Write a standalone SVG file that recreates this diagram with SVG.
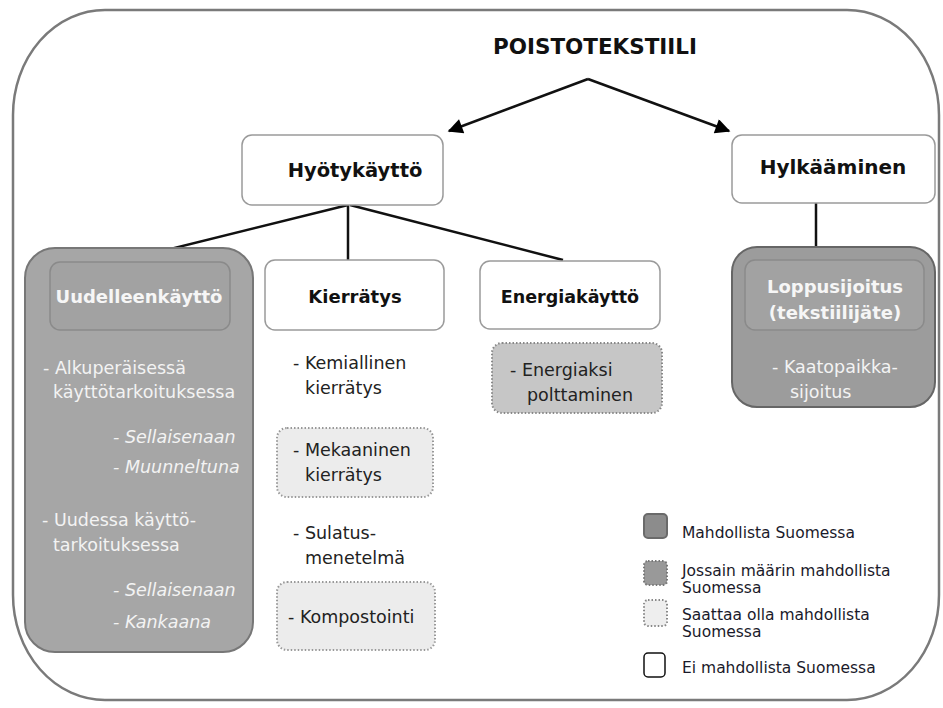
<svg xmlns="http://www.w3.org/2000/svg" width="943" height="708" viewBox="0 0 943 708">
<defs>
<marker id="ah" viewBox="0 0 10 10" refX="9" refY="5" markerWidth="7" markerHeight="6" orient="auto" markerUnits="strokeWidth">
<path d="M0,0 L10,5 L0,10 z" fill="#000"/>
</marker>
</defs>
<style>
.frame{fill:#fff;stroke:#7a7a7a;stroke-width:2.5}
.wbox{fill:#fff;stroke:#9a9a9a;stroke-width:1.5}
.gbox{fill:#a6a6a6;stroke:#777;stroke-width:2}
.gin{fill:#a2a2a2;stroke:#8a8a8a;stroke-width:1.5}
.dotd{fill:#c6c6c6;stroke:#888;stroke-width:2;stroke-dasharray:1.5 2}
.dotl{fill:#ececec;stroke:#999;stroke-width:2;stroke-dasharray:1.5 2}
.lbl{font-family:"DejaVu Sans",Verdana,sans-serif;font-weight:bold;fill:#111;text-anchor:middle}
.wl{font-family:"DejaVu Sans",Verdana,sans-serif;font-weight:bold;font-size:18px;fill:#f6f6f6;text-anchor:middle}
.t{font-family:"DejaVu Sans",Verdana,sans-serif;font-size:17.5px;fill:#222}
.lt{font-family:"DejaVu Sans",Verdana,sans-serif;font-size:17.5px;fill:#f3f3f3}
.it{font-style:italic}
.lg{font-family:"DejaVu Sans",Verdana,sans-serif;font-size:15.5px;fill:#1a1a2a}
.con{stroke:#111;stroke-width:2.5;fill:none}
</style>
<rect class="frame" x="13" y="10" width="926" height="690" rx="92" ry="105"/>
<g id="connectors">
<line class="con" x1="588" y1="79" x2="449" y2="131" marker-end="url(#ah)"/>
<line class="con" x1="588" y1="79" x2="729" y2="131" marker-end="url(#ah)"/>
<line class="con" x1="348" y1="205" x2="122" y2="261"/>
<line class="con" x1="348" y1="205" x2="348" y2="260"/>
<line class="con" x1="350" y1="205" x2="563" y2="260"/>
<line class="con" x1="816" y1="203" x2="816" y2="247"/>
</g>
<g id="poistotekstiili">
<text class="lbl" x="595" y="54" style="font-size:21px" textLength="204" lengthAdjust="spacingAndGlyphs">POISTOTEKSTIILI</text>
</g>
<g id="hyotykaytto">
<rect class="wbox" x="242" y="135" width="201" height="70" rx="10"/>
<text class="lbl" x="355" y="177" style="font-size:19.5px">Hyötykäyttö</text>
</g>
<g id="hylkaaminen">
<rect class="wbox" x="732" y="135" width="203" height="68" rx="10"/>
<text class="lbl" x="833" y="174" style="font-size:20px">Hylkääminen</text>
</g>
<g id="uudelleenkaytto">
<rect class="gbox" x="25" y="248" width="228" height="404" rx="30"/>
<rect class="gin" x="50" y="262" width="180" height="68" rx="10"/>
<text class="wl" x="139" y="303">Uudelleenkäyttö</text>
<text class="lt" x="43" y="374">- Alkuperäisessä</text>
<text class="lt" x="53" y="398">käyttötarkoituksessa</text>
<text class="lt it" x="113" y="443">- Sellaisenaan</text>
<text class="lt it" x="113" y="473">- Muunneltuna</text>
<text class="lt" x="42" y="526">- Uudessa käyttö-</text>
<text class="lt" x="53" y="551">tarkoituksessa</text>
<text class="lt it" x="113" y="596">- Sellaisenaan</text>
<text class="lt it" x="113" y="628">- Kankaana</text>
</g>
<g id="kierratys">
<rect class="wbox" x="265" y="260" width="179" height="70" rx="10"/>
<text class="lbl" x="355" y="303" style="font-size:18px">Kierrätys</text>
<text class="t" x="293" y="369">- Kemiallinen</text>
<text class="t" x="305" y="394">kierrätys</text>
</g>
<g id="mekaaninen">
<rect class="dotl" x="277" y="428" width="156" height="69" rx="10"/>
<text class="t" x="293" y="456">- Mekaaninen</text>
<text class="t" x="305" y="481">kierrätys</text>
</g>
<g id="sulatus">
<text class="t" x="293" y="539">- Sulatus-</text>
<text class="t" x="305" y="564">menetelmä</text>
</g>
<g id="kompostointi">
<rect class="dotl" x="277" y="582" width="158" height="68" rx="10"/>
<text class="t" x="288" y="623">- Kompostointi</text>
</g>
<g id="energiakaytto">
<rect class="wbox" x="480" y="261" width="180" height="68" rx="10"/>
<text class="lbl" x="570" y="303" style="font-size:17.5px">Energiakäyttö</text>
</g>
<g id="energiaksi">
<rect class="dotd" x="492" y="343" width="170" height="70" rx="10"/>
<text class="t" x="510" y="376">- Energiaksi</text>
<text class="t" x="527" y="401">polttaminen</text>
</g>
<g id="loppusijoitus">
<rect class="gbox" x="732" y="247" width="203" height="160" rx="25" style="fill:#9c9c9c;stroke:#666"/>
<rect class="gin" x="745" y="260" width="179" height="70" rx="10"/>
<text class="wl" x="835" y="293">Loppusijoitus</text>
<text class="wl" x="835" y="319">(tekstiilijäte)</text>
<text class="lt" x="772" y="373">- Kaatopaikka-</text>
<text class="lt" x="790" y="398">sijoitus</text>
</g>
<g id="legend">
<rect x="644" y="514" width="23" height="24" rx="4" fill="#8c8c8c" stroke="#6a6a6a" stroke-width="2"/>
<text class="lg" x="682" y="538">Mahdollista Suomessa</text>
<rect x="644" y="561" width="23" height="24" rx="4" fill="#999" stroke="#777" stroke-width="2" stroke-dasharray="1.5 2"/>
<text class="lg" x="682" y="576">Jossain määrin mahdollista</text>
<text class="lg" x="682" y="593">Suomessa</text>
<rect x="644" y="600" width="23" height="26" rx="4" fill="#eee" stroke="#888" stroke-width="2" stroke-dasharray="1.5 2"/>
<text class="lg" x="682" y="620">Saattaa olla mahdollista</text>
<text class="lg" x="682" y="637">Suomessa</text>
<rect x="644" y="653" width="21" height="24" rx="4" fill="#fff" stroke="#111" stroke-width="1.5"/>
<text class="lg" x="682" y="673">Ei mahdollista Suomessa</text>
</g>
</svg>
